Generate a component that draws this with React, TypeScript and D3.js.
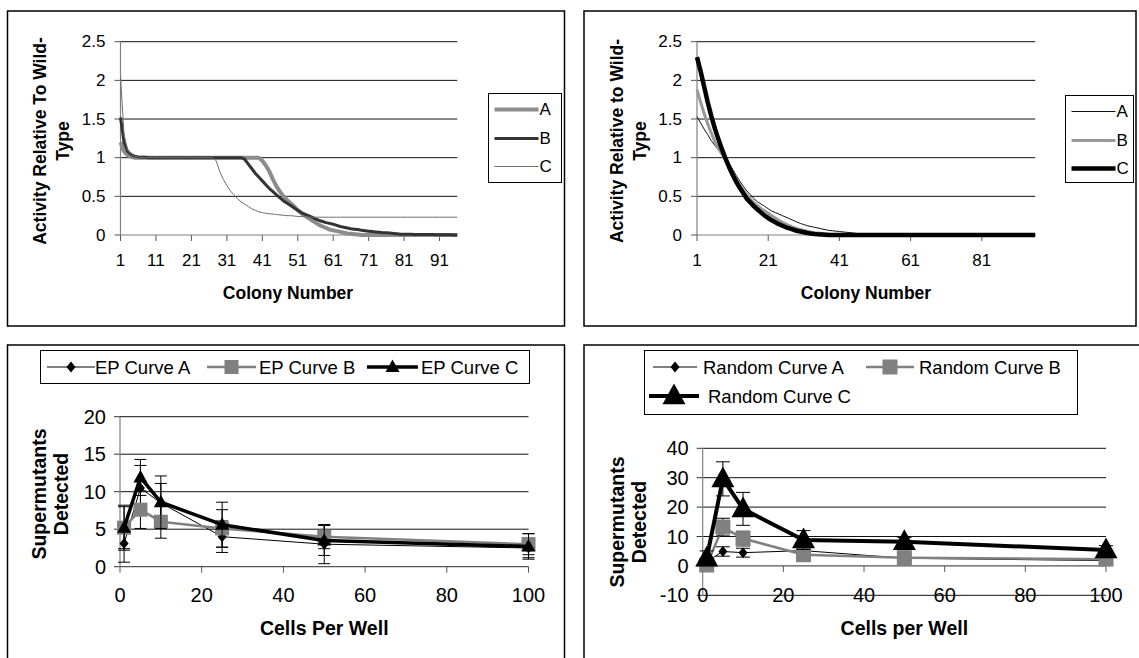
import React from 'react';
import * as d3 from 'd3';

const FONT = '"Liberation Sans", Arial, Helvetica, sans-serif';

// ---------- Top-left: activity curves (colonies 1..96) ----------
const TL_A = [1.2, 1.08, 1.03, 1.01,
  1, 1, 1, 1, 1, 1, 1, 1, 1, 1,
  1, 1, 1, 1, 1, 1, 1, 1, 1, 1,
  1, 1, 1, 1, 1, 1, 1, 1, 1, 1,
  1, 1, 1, 1, 1, 1,
  0.96, 0.9, 0.82, 0.72, 0.63, 0.56, 0.5, 0.45, 0.41, 0.37,
  0.32, 0.28, 0.25, 0.22, 0.19, 0.16, 0.13, 0.11, 0.09, 0.07,
  0.06, 0.05, 0.04, 0.03, 0.02, 0.015, 0.01, 0.005,
  0, 0, 0, 0, 0, 0, 0, 0, 0, 0,
  0, 0, 0, 0, 0, 0, 0, 0, 0, 0,
  0, 0, 0, 0, 0, 0, 0, 0];
const TL_B = [1.52, 1.2, 1.08, 1.04, 1.02, 1.01, 1.005, 1.005,
  1, 1, 1, 1, 1, 1, 1, 1, 1, 1,
  1, 1, 1, 1, 1, 1, 1, 1, 1, 1,
  1, 1, 1, 1, 1, 1, 1,
  0.98, 0.92, 0.86, 0.8, 0.75, 0.7, 0.65, 0.6, 0.56, 0.52,
  0.48, 0.44, 0.41, 0.38, 0.35, 0.32, 0.29, 0.27, 0.25, 0.23,
  0.21, 0.19, 0.175, 0.16, 0.15, 0.14, 0.125, 0.11, 0.1, 0.09,
  0.08, 0.075, 0.07, 0.06, 0.055, 0.05, 0.045, 0.04, 0.035, 0.03,
  0.03, 0.025, 0.02, 0.015, 0.01, 0.01, 0.01, 0.01, 0.008, 0.008,
  0.006, 0.006, 0.005, 0.005, 0.004, 0.003, 0.003, 0.002, 0.002, 0.001,
  0.001];
const TL_C = [2.05, 1.3, 1.1, 1.04, 1.02, 1.01,
  1, 1, 1, 1, 1, 1, 1, 1, 1, 1,
  1, 1, 1, 1, 1, 1, 1, 1, 1, 1, 1,
  0.96, 0.82, 0.72, 0.64, 0.57, 0.52, 0.47, 0.43, 0.4, 0.37,
  0.34, 0.32, 0.3, 0.29, 0.28, 0.275, 0.27, 0.265, 0.26, 0.255,
  0.25, 0.25, 0.245, 0.24, 0.24, 0.235, 0.235,
  0.23, 0.23, 0.23, 0.23, 0.23, 0.23, 0.23, 0.23, 0.23, 0.23,
  0.23, 0.23, 0.23, 0.23, 0.23, 0.23, 0.23, 0.23, 0.23, 0.23,
  0.23, 0.23, 0.23, 0.23, 0.23, 0.23, 0.23, 0.23, 0.23, 0.23,
  0.23, 0.23, 0.23, 0.23, 0.23, 0.23, 0.23, 0.23, 0.23, 0.23,
  0.23, 0.23];

// ---------- Top-right: activity curves ----------
const TR_A = [1.53, 1.45, 1.37, 1.3, 1.22, 1.16, 1.1, 1.05, 1.0, 0.93,
  0.85, 0.77, 0.7, 0.63, 0.57, 0.52, 0.47, 0.43, 0.4, 0.37,
  0.34, 0.31, 0.29, 0.27, 0.25, 0.23, 0.21, 0.19, 0.17, 0.15,
  0.135, 0.12, 0.11, 0.1, 0.09, 0.08, 0.07, 0.06, 0.055, 0.05,
  0.045, 0.04, 0.035, 0.03, 0.025, 0.02, 0.015, 0.012, 0.01, 0.008,
  0.005, 0.005, 0.005, 0.004, 0.003, 0, 0, 0, 0, 0,
  0, 0, 0, 0, 0, 0, 0, 0, 0, 0,
  0, 0, 0, 0, 0, 0, 0, 0, 0, 0,
  0, 0, 0, 0, 0, 0, 0, 0, 0, 0,
  0, 0, 0, 0, 0, 0];
const TR_B = [1.88, 1.72, 1.57, 1.44, 1.32, 1.21, 1.12, 1.05, 0.97, 0.88,
  0.8, 0.72, 0.65, 0.58, 0.52, 0.47, 0.42, 0.38, 0.34, 0.31,
  0.28, 0.25, 0.22, 0.19, 0.165, 0.14, 0.12, 0.1, 0.085, 0.07,
  0.06, 0.05, 0.04, 0.03, 0.025, 0.02, 0.015, 0.01, 0.008, 0.006,
  0.005, 0.004, 0.003, 0.002, 0.001, 0, 0, 0, 0, 0,
  0, 0, 0, 0, 0, 0, 0, 0, 0, 0,
  0, 0, 0, 0, 0, 0, 0, 0, 0, 0,
  0, 0, 0, 0, 0, 0, 0, 0, 0, 0,
  0, 0, 0, 0, 0, 0, 0, 0, 0, 0,
  0, 0, 0, 0, 0, 0];
const TR_C = [2.3, 2.12, 1.92, 1.72, 1.54, 1.38, 1.24, 1.11, 0.99, 0.88,
  0.78, 0.69, 0.61, 0.54, 0.47, 0.42, 0.37, 0.33, 0.29, 0.25,
  0.22, 0.19, 0.165, 0.14, 0.12, 0.1, 0.085, 0.07, 0.055, 0.045,
  0.035, 0.025, 0.018, 0.012, 0.008, 0.005, 0.003, 0, 0, 0,
  0, 0, 0, 0, 0, 0, 0, 0, 0, 0,
  0, 0, 0, 0, 0, 0, 0, 0, 0, 0,
  0, 0, 0, 0, 0, 0, 0, 0, 0, 0,
  0, 0, 0, 0, 0, 0, 0, 0, 0, 0,
  0, 0, 0, 0, 0, 0, 0, 0, 0, 0,
  0, 0, 0, 0, 0, 0];

const ACT_Y_TICKS = [0, 0.5, 1, 1.5, 2, 2.5];
const ACT_Y_LABELS = ['0', '0.5', '1', '1.5', '2', '2.5'];
const TL_X_TICKS = [1, 11, 21, 31, 41, 51, 61, 71, 81, 91];
const TR_X_TICKS = [1, 21, 41, 61, 81];

// ---------- Bottom panels ----------
const CELLS = [1, 5, 10, 25, 50, 100];
const EP_A = [3.1, 10.5, 8.5, 4.0, 3.0, 2.5];
const EP_B = [5.2, 7.6, 6.0, 5.1, 4.0, 3.0];
const EP_C = [5.2, 11.9, 8.6, 5.6, 3.5, 2.7];
const EP_A_ERR = [2.5, 3.0, 2.6, 2.1, 2.6, 1.3];
const EP_B_ERR = [2.8, 2.5, 2.2, 2.5, 1.6, 1.4];
const EP_C_ERR = [3.0, 2.4, 3.5, 3.0, 2.0, 1.7];
const EP_Y_TICKS = [0, 5, 10, 15, 20];

const RND_A = [1.5, 4.9, 4.5, 5.2, 2.6, 1.8];
const RND_B = [0.3, 13.2, 9.3, 3.8, 2.8, 2.3];
const RND_C = [2.6, 29.6, 19.4, 8.8, 8.2, 5.4];
const RND_A_ERR = [1.0, 1.6, 1.5, 0.8, 0.6, 0.5];
const RND_B_ERR = [1.0, 3.0, 2.5, 1.5, 1.0, 0.8];
const RND_C_ERR = [2.5, 5.8, 5.6, 3.2, 1.5, 1.5];
const RND_Y_TICKS = [-10, 0, 10, 20, 30, 40];
const CELL_X_TICKS = [0, 20, 40, 60, 80, 100];

type TxtProps = {
  x: number; y: number; size: number; bold?: boolean; anchor?: string; rotate?: boolean; children: React.ReactNode;
};
function Txt({ x, y, size, bold, anchor = 'middle', rotate, children }: TxtProps) {
  return (
    <text x={x} y={y} fontSize={size} fontWeight={bold ? 'bold' : 'normal'} textAnchor={anchor}
      dominantBaseline="central" fontFamily={FONT} fill="#000"
      transform={rotate ? `rotate(-90 ${x} ${y})` : undefined}>{children}</text>
  );
}

type LineSeries = { values: number[]; color: string; width: number; name: string };

function ActivityPanel(props: {
  axisX: number; step: number; xTicks: number[]; series: LineSeries[]; yTitle: string[];
  yTitleX: number[]; xTitleX: number; legend: { x: number; y: number; w: number; h: number };
}) {
  const { axisX, step, xTicks, series, yTitle, yTitleX, xTitleX, legend } = props;
  const n = series[0].values.length;
  const x = d3.scaleLinear().domain([1, n]).range([axisX, axisX + (n - 1) * step]);
  const y = d3.scaleLinear().domain([0, 2.5]).range([235, 41.7]);
  const xEnd = x(n);
  const line = d3.line<number>().x((_, i) => x(i + 1)).y((d) => y(d));
  const rows = [legend.y + 16, legend.y + 45, legend.y + 73];
  return (
    <g>
      {ACT_Y_TICKS.filter((t) => t > 0).map((t) => (
        <line key={t} x1={axisX} x2={xEnd} y1={y(t)} y2={y(t)} stroke="#111" strokeWidth={1} />
      ))}
      {ACT_Y_TICKS.map((t) => (
        <line key={'yt' + t} x1={axisX - 6} x2={axisX} y1={y(t)} y2={y(t)} stroke="#555" strokeWidth={1} />
      ))}
      {xTicks.map((t) => (
        <line key={'xt' + t} x1={x(t)} x2={x(t)} y1={y(0)} y2={y(0) + 6} stroke="#555" strokeWidth={1} />
      ))}
      <line x1={axisX} x2={axisX} y1={y(0)} y2={y(2.5)} stroke="#808080" strokeWidth={1.2} />
      <line x1={axisX} x2={xEnd} y1={y(0)} y2={y(0)} stroke="#808080" strokeWidth={1.2} />
      {ACT_Y_TICKS.map((t, i) => (
        <Txt key={'yl' + t} x={axisX - 15} y={y(t)} size={17} anchor="end">{ACT_Y_LABELS[i]}</Txt>
      ))}
      {xTicks.map((t) => (
        <Txt key={'xl' + t} x={x(t)} y={260.5} size={17}>{t}</Txt>
      ))}
      {series.map((s) => (
        <path key={s.name} d={line(s.values) || ''} fill="none" stroke={s.color} strokeWidth={s.width}
          strokeLinejoin="round" />
      ))}
      {yTitle.map((t, i) => (
        <Txt key={t} x={yTitleX[i]} y={141} size={17.5} bold rotate>{t}</Txt>
      ))}
      <Txt x={xTitleX} y={293} size={17.5} bold>Colony Number</Txt>
      <rect x={legend.x} y={legend.y} width={legend.w} height={legend.h} fill="#fff" stroke="#000" strokeWidth={1} />
      {series.map((s, i) => (
        <g key={'lg' + s.name}>
          <line x1={legend.x + 6} x2={legend.x + 50} y1={rows[i]} y2={rows[i]} stroke={s.color} strokeWidth={s.width} />
          <Txt x={legend.x + 51} y={rows[i]} size={17} anchor="start">{s.name}</Txt>
        </g>
      ))}
    </g>
  );
}

type MarkerKind = 'diamond' | 'square' | 'triangle';
function Marker({ kind, cx, cy, size, color }: { kind: MarkerKind; cx: number; cy: number; size: number; color: string }) {
  if (kind === 'diamond') {
    const w = size * 0.45, h = size * 0.55;
    return <path d={`M${cx},${cy - h}L${cx + w},${cy}L${cx},${cy + h}L${cx - w},${cy}Z`} fill={color} />;
  }
  if (kind === 'square') {
    return <rect x={cx - size / 2} y={cy - size / 2} width={size} height={size} fill={color} />;
  }
  const w = size, h = size * 0.9;
  return <path d={`M${cx},${cy - h * 0.6}L${cx + w / 2},${cy + h * 0.4}L${cx - w / 2},${cy + h * 0.4}Z`} fill={color} />;
}

type PtSeries = {
  name: string; values: number[]; err: number[]; color: string; width: number; marker: MarkerKind; msize: number;
};

function CellsPanel(props: {
  axisX: number; xEndPx: number; yDomain: [number, number]; yRange: [number, number]; yTicks: number[];
  series: PtSeries[]; xLabelY: number; yTitleX: number[]; yTitleY: number; xTitle: string; cap: number;
  legendBox: { x: number; y: number; w: number; h: number };
  legendItems: { x: number; y: number; lineLen: number; textX: number }[];
}) {
  const { axisX, xEndPx, yDomain, yRange, yTicks, series, xLabelY, yTitleX, yTitleY, xTitle, cap, legendBox, legendItems } = props;
  const x = d3.scaleLinear().domain([0, 100]).range([axisX, xEndPx]);
  const y = d3.scaleLinear().domain(yDomain).range(yRange);
  const line = d3.line<number>().x((_, i) => x(CELLS[i])).y((d) => y(d));
  const y0 = y(0);
  return (
    <g>
      {yTicks.filter((t) => t !== 0).map((t) => (
        <line key={t} x1={axisX} x2={xEndPx} y1={y(t)} y2={y(t)} stroke="#111" strokeWidth={1} />
      ))}
      {yTicks.map((t) => (
        <line key={'yt' + t} x1={axisX - 6} x2={axisX} y1={y(t)} y2={y(t)} stroke="#333" strokeWidth={1} />
      ))}
      {CELL_X_TICKS.map((t) => (
        <line key={'xt' + t} x1={x(t)} x2={x(t)} y1={y0} y2={y0 + 6} stroke="#555" strokeWidth={1} />
      ))}
      <line x1={axisX} x2={axisX} y1={y(yDomain[0])} y2={y(yDomain[1])} stroke="#808080" strokeWidth={1.2} />
      <line x1={axisX} x2={xEndPx} y1={y0} y2={y0} stroke="#555" strokeWidth={1.2} />
      {yTicks.map((t) => (
        <Txt key={'yl' + t} x={axisX - 14} y={y(t)} size={20} anchor="end">{t}</Txt>
      ))}
      {CELL_X_TICKS.map((t) => (
        <Txt key={'xl' + t} x={x(t)} y={xLabelY} size={20}>{t}</Txt>
      ))}
      {series.map((s) => (
        <g key={s.name}>
          <path d={line(s.values) || ''} fill="none" stroke={s.color} strokeWidth={s.width} strokeLinejoin="round" />
          {s.values.map((v, i) => {
            const cx = x(CELLS[i]);
            const top = y(v + s.err[i]);
            const bot = y(v - s.err[i]);
            return (
              <g key={'e' + i} stroke="#000" strokeWidth={1}>
                <line x1={cx} x2={cx} y1={top} y2={bot} />
                <line x1={cx - cap} x2={cx + cap} y1={top} y2={top} />
                <line x1={cx - cap} x2={cx + cap} y1={bot} y2={bot} />
              </g>
            );
          })}
          {s.values.map((v, i) => (
            <Marker key={'m' + i} kind={s.marker} cx={x(CELLS[i])} cy={y(v)} size={s.msize} color={s.color} />
          ))}
        </g>
      ))}
      {yTitleX.map((xx, i) => (
        <Txt key={'yt' + i} x={xx} y={yTitleY} size={19.5} bold rotate>{i === 0 ? 'Supermutants' : 'Detected'}</Txt>
      ))}
      <Txt x={(axisX + xEndPx) / 2} y={628} size={19.5} bold>{xTitle}</Txt>
      <rect x={legendBox.x} y={legendBox.y} width={legendBox.w} height={legendBox.h} fill="#fff" stroke="#000" strokeWidth={1} />
      {series.map((s, i) => {
        const it = legendItems[i];
        return (
          <g key={'lg' + s.name}>
            <line x1={it.x} x2={it.x + it.lineLen} y1={it.y} y2={it.y} stroke={s.color} strokeWidth={s.width} />
            <Marker kind={s.marker} cx={it.x + it.lineLen / 2} cy={it.y} size={s.msize} color={s.color} />
            <Txt x={it.textX} y={it.y} size={18.5} anchor="start">{s.name}</Txt>
          </g>
        );
      })}
    </g>
  );
}

export default function App() {
  const W = 1139, H = 658;
  return (
    <svg width={W} height={H} viewBox={`0 0 ${W} ${H}`} style={{ position: 'absolute', left: 0, top: 0, background: '#fff' }}>
      <rect x={0} y={0} width={W} height={H} fill="#fff" />
      {/* frames */}
      <rect x={7.5} y={11} width={557} height={315} fill="#fff" stroke="#000" strokeWidth={1.5} />
      <rect x={584} y={11} width={552} height={315} fill="#fff" stroke="#000" strokeWidth={1.5} />
      <rect x={7.5} y={345} width={557} height={330} fill="#fff" stroke="#000" strokeWidth={1.5} />
      <rect x={584} y={345} width={570} height={330} fill="#fff" stroke="#000" strokeWidth={1.5} />

      <ActivityPanel
        axisX={120.5} step={3.545} xTicks={TL_X_TICKS}
        series={[
          { name: 'A', values: TL_A, color: '#8c8c8c', width: 4 },
          { name: 'B', values: TL_B, color: '#333333', width: 3 },
          { name: 'C', values: TL_C, color: '#6e6e6e', width: 1 },
        ]}
        yTitle={['Activity Relative To Wild-', 'Type']} yTitleX={[40, 63]} xTitleX={288}
        legend={{ x: 488.5, y: 93.5, w: 73, h: 89 }}
      />
      <ActivityPanel
        axisX={697} step={3.56} xTicks={TR_X_TICKS}
        series={[
          { name: 'A', values: TR_A, color: '#111111', width: 1 },
          { name: 'B', values: TR_B, color: '#999999', width: 3 },
          { name: 'C', values: TR_C, color: '#000000', width: 4.5 },
        ]}
        yTitle={['Activity Relative to Wild-', 'Type']} yTitleX={[617, 640]} xTitleX={866}
        legend={{ x: 1065.5, y: 95.5, w: 68, h: 87 }}
      />
      <CellsPanel
        axisX={120} xEndPx={528.5} yDomain={[0, 20]} yRange={[566.7, 416.7]} yTicks={EP_Y_TICKS}
        series={[
          { name: 'EP Curve A', values: EP_A, err: EP_A_ERR, color: '#000000', width: 1, marker: 'diamond', msize: 10 },
          { name: 'EP Curve B', values: EP_B, err: EP_B_ERR, color: '#808080', width: 2.5, marker: 'square', msize: 14 },
          { name: 'EP Curve C', values: EP_C, err: EP_C_ERR, color: '#000000', width: 3.5, marker: 'triangle', msize: 14 },
        ]}
        xLabelY={595} yTitleX={[39, 61]} yTitleY={494} xTitle="Cells Per Well" cap={6}
        legendBox={{ x: 40.5, y: 350.5, w: 489, h: 33 }}
        legendItems={[
          { x: 47, y: 367, lineLen: 48, textX: 95 },
          { x: 207, y: 367, lineLen: 49, textX: 259 },
          { x: 367, y: 367, lineLen: 51, textX: 421 },
        ]}
      />
      <CellsPanel
        axisX={702.7} xEndPx={1106} yDomain={[-10, 40]} yRange={[595.3, 448.3]} yTicks={RND_Y_TICKS}
        series={[
          { name: 'Random Curve A', values: RND_A, err: RND_A_ERR, color: '#000000', width: 1, marker: 'diamond', msize: 10 },
          { name: 'Random Curve B', values: RND_B, err: RND_B_ERR, color: '#808080', width: 2.5, marker: 'square', msize: 15 },
          { name: 'Random Curve C', values: RND_C, err: RND_C_ERR, color: '#000000', width: 4, marker: 'triangle', msize: 23 },
        ]}
        xLabelY={595} yTitleX={[617, 639]} yTitleY={522} xTitle="Cells per Well" cap={7}
        legendBox={{ x: 644.5, y: 350.5, w: 433, h: 64 }}
        legendItems={[
          { x: 653, y: 367, lineLen: 44, textX: 703 },
          { x: 866, y: 367, lineLen: 48, textX: 919 },
          { x: 649, y: 396, lineLen: 50, textX: 708 },
        ]}
      />
    </svg>
  );
}
